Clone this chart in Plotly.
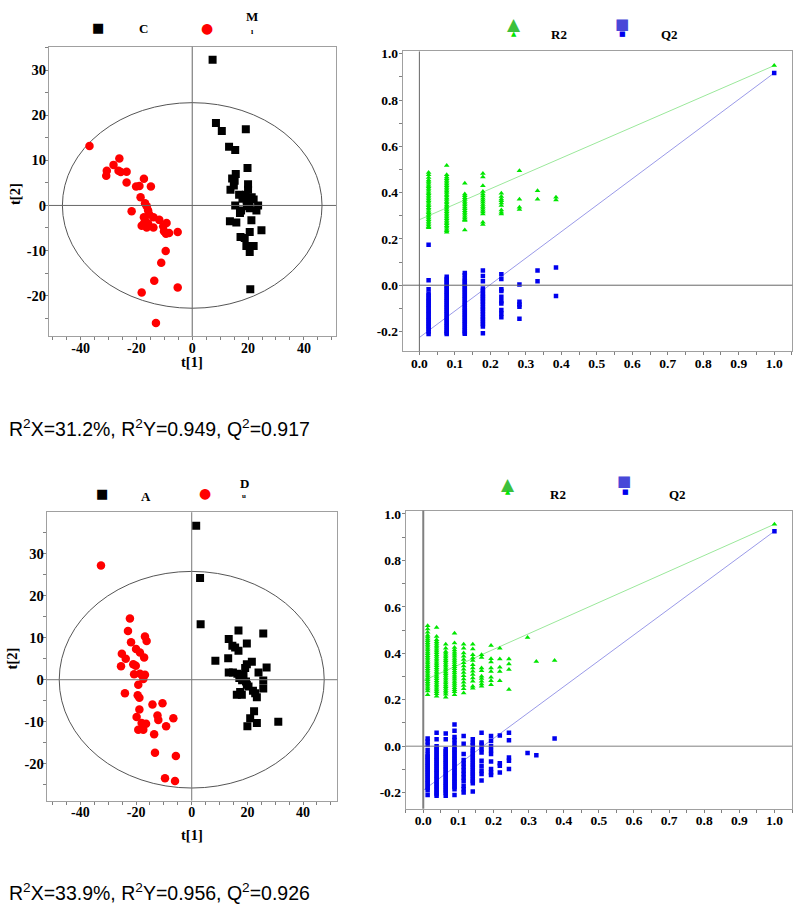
import plotly.graph_objects as go

W, H = 800, 913

# ---------------- DATA ----------------
# Top-left score plot (groups C and M)
TL_C_T1 = [7.3, 8.5, 10.6, 19.2, 13.2, 15.4, 19.8, 15.6, 14.3, 15.2, 20.0, 13.7, 14.9, 20.0, 16.8, 18.2, 19.2, 21.3, 22.0, 19.5,
           20.4, 23.6, 23.0, 15.4, 17.5, 17.1, 19.6, 20.6, 21.2, 13.5, 15.8, 24.8, 20.6, 17.3, 18.8, 19.4, 22.0, 20.6, 20.8, 18.0]
TL_C_T2 = [32.3, 18.3, 16.5, 16.9, 13.0, 12.3, 8.3, 7.0, 6.0, 5.5, 4.7, 3.5, 4.4, 3.5, 2.4, 2.0, 2.4, 1.8, 1.3, 1.1,
           0.7, 0.0, -1.1, 0.0, -1.1, -1.7, -0.2, -0.6, -3.3, -3.5, -3.8, -5.5, -5.9, -7.0, -7.2, -9.0, -9.0, -10.3, -18.6, 1.5]
TL_M_T1 = [-36.8, -26.1, -28.2, -30.6, -30.8, -26.4, -25.6, -23.5, -17.3, -23.5, -20.1, -18.9, -14.8, -18.5, -16.9, -16.3,
           -21.7, -15.8, -15.4, -17.3, -13.9, -11.8, -9.2, -17.3, -15.8, -18.1, -16.3, -13.9, -10.4, -10.1, -9.4, -8.3,
           -5.2, -9.5, -11.1, -13.6, -18.1, -5.2, -13.0, -16.8]
TL_M_T2 = [13.2, 10.4, 9.0, 7.7, 6.6, 7.7, 7.4, 7.5, 5.9, 5.1, 4.2, 4.3, 4.2, 1.8, 0.5, -0.2,
           -1.3, -1.1, -2.0, -2.6, -2.6, -3.2, -3.9, -4.0, -4.0, -4.5, -4.9, -4.9, -4.6, -5.7, -6.3, -6.1,
           -5.9, -10.1, -12.7, -16.7, -19.3, -18.2, -26.1, -3.4]
TL_ELLIPSE = (46.5, 22.8)   # Hotelling T2 semi-axes

# Bottom-left score plot (groups A and D)
BL_A_T1 = [1.6, 3.0, 3.2, 16.8, 25.7, 13.3, 14.6, 19.8, 15.6, 16.8, 13.1, 8.5, 21.6, 19.8, 19.2, 26.9, 24.0, 13.3, 14.8, 16.4,
           18.6, 17.1, 18.1, 19.5, 25.7, 19.8, 20.4, 22.0, 22.8, 25.7, 16.2, 18.0, 23.4, 22.4, 21.0, 20.0, 23.4, 31.1, 17.4]
BL_A_T2 = [36.7, 24.2, 13.2, 11.7, 11.0, 9.7, 8.1, 8.6, 7.7, 6.9, 5.1, 4.5, 4.3, 3.7, 2.8, 2.9, 1.7, 1.7, 1.7, 1.4,
           1.2, 0.4, -0.1, -0.4, -0.2, -1.2, -1.6, -2.6, -3.2, -2.1, -3.6, -3.6, -4.2, -7.5, -9.2, -11.1, -10.3, -10.0, -2.9]
BL_D_T1 = [-32.6, -22.2, -22.9, -16.8, -16.2, -21.8, -20.0, -18.6, -25.1, -23.7, -17.1, -21.0, -20.1, -25.4, -20.7, -18.6,
           -16.8, -17.4, -19.2, -24.0, -19.4, -18.8, -14.1, -10.5, -18.8, -19.8, -12.3, -12.0, -6.6, -18.0, -16.4, -9.2,
           -19.2, -17.4, -13.5, -13.2, -5.7, -9.6, -6.0]
BL_D_T2 = [27.2, 14.6, 11.6, 10.3, 9.2, 8.9, 7.3, 6.5, 6.2, 5.0, 5.3, 3.7, 3.3, 3.2, 1.3, 1.4,
           1.2, 0.2, -1.2, -3.2, -3.7, -4.3, -5.9, -5.6, -7.1, -8.9, -8.5, -9.6, -9.2, -10.3, -10.5, -11.1,
           -11.9, -11.9, -13.0, -17.4, -18.2, -23.5, -24.1]
BL_ELLIPSE = (47.6, 25.8)

# Top-right permutation plot
TR_X = [0.026, 0.077, 0.128, 0.179, 0.231, 0.282, 0.333, 0.385]
TR_R2 = [
    [0.487, 0.477, 0.465, 0.455, 0.448, 0.44, 0.432, 0.425, 0.418, 0.41, 0.402, 0.395, 0.388, 0.38, 0.372, 0.365,
     0.358, 0.35, 0.343, 0.335, 0.328, 0.32, 0.313, 0.305, 0.298, 0.29, 0.283, 0.275, 0.268, 0.26, 0.253, 0.248],
    [0.517, 0.477, 0.468, 0.46, 0.452, 0.445, 0.437, 0.43, 0.422, 0.415, 0.407, 0.4, 0.392, 0.385, 0.377, 0.37,
     0.362, 0.355, 0.347, 0.34, 0.332, 0.325, 0.317, 0.31, 0.302, 0.295, 0.287, 0.28, 0.272, 0.265, 0.257, 0.25,
     0.242, 0.235, 0.229],
    [0.441, 0.394, 0.386, 0.378, 0.37, 0.362, 0.354, 0.346, 0.338, 0.33, 0.322, 0.314, 0.306, 0.298, 0.29, 0.283,
     0.279, 0.239],
    [0.483, 0.468, 0.43, 0.405, 0.394, 0.385, 0.376, 0.367, 0.358, 0.349, 0.34, 0.332, 0.324, 0.316, 0.308, 0.272, 0.262],
    [0.397, 0.383, 0.372, 0.365, 0.355, 0.344, 0.325, 0.315, 0.308],
    [0.494, 0.371, 0.337, 0.327],
    [0.408, 0.371],
    [0.38, 0.368],
]
TR_Q2 = [
    [0.175, 0.021, -0.017, -0.036, -0.045, -0.055, -0.064, -0.073, -0.082, -0.091, -0.1, -0.109, -0.118, -0.127,
     -0.136, -0.145, -0.154, -0.163, -0.172, -0.181, -0.19, -0.2, -0.211],
    [0.036, 0.027, 0.018, 0.009, 0.0, -0.009, -0.018, -0.027, -0.036, -0.045, -0.054, -0.063, -0.072, -0.081, -0.09,
     -0.099, -0.108, -0.117, -0.126, -0.135, -0.144, -0.153, -0.162, -0.171, -0.18, -0.189, -0.198, -0.205, -0.211],
    [0.053, 0.043, 0.029, 0.02, 0.011, 0.002, -0.007, -0.016, -0.025, -0.034, -0.043, -0.052, -0.061, -0.07, -0.079,
     -0.088, -0.097, -0.106, -0.115, -0.124, -0.133, -0.142, -0.151, -0.16, -0.169, -0.178, -0.187, -0.196, -0.204, -0.21],
    [0.064, 0.04, 0.017, -0.014, -0.024, -0.036, -0.045, -0.053, -0.062, -0.071, -0.082, -0.093, -0.104, -0.114,
     -0.125, -0.136, -0.147, -0.157, -0.168, -0.179, -0.208],
    [0.047, 0.027, -0.018, -0.025, -0.05, -0.069, -0.079, -0.107, -0.122, -0.139],
    [0.003, -0.072, -0.083, -0.093, -0.145],
    [0.064, 0.017],
    [0.076, -0.047],
]
TR_ORIG = (0.949, 0.917)          # original model R2, Q2 at x = 1
TR_INTERCEPT = (0.283, -0.226)    # regression-line intercepts R2, Q2

# Bottom-right permutation plot
BR_X = [0.0125, 0.038, 0.064, 0.089, 0.115, 0.141, 0.166, 0.193, 0.218, 0.244, 0.297, 0.322, 0.374]
BR_R2 = [
    [0.519, 0.505, 0.491, 0.478, 0.47, 0.462, 0.454, 0.446, 0.438, 0.43, 0.422, 0.414, 0.406, 0.398, 0.39, 0.382,
     0.374, 0.366, 0.358, 0.35, 0.342, 0.334, 0.326, 0.318, 0.31, 0.302, 0.294, 0.286, 0.278, 0.27, 0.262, 0.254,
     0.246, 0.238, 0.222],
    [0.511, 0.472, 0.458, 0.45, 0.442, 0.434, 0.426, 0.418, 0.41, 0.402, 0.394, 0.386, 0.378, 0.37, 0.362, 0.354,
     0.346, 0.338, 0.33, 0.322, 0.314, 0.306, 0.298, 0.29, 0.282, 0.274, 0.266, 0.258, 0.25, 0.242, 0.234, 0.226, 0.215],
    [0.439, 0.422, 0.408, 0.4, 0.392, 0.384, 0.376, 0.368, 0.36, 0.352, 0.344, 0.336, 0.328, 0.32, 0.312, 0.304,
     0.296, 0.288, 0.28, 0.272, 0.264, 0.256, 0.248, 0.24, 0.232, 0.224, 0.211],
    [0.486, 0.444, 0.425, 0.414, 0.405, 0.396, 0.387, 0.378, 0.369, 0.36, 0.351, 0.342, 0.333, 0.324, 0.315, 0.306,
     0.297, 0.288, 0.279, 0.27, 0.261, 0.252, 0.243, 0.234, 0.222],
    [0.439, 0.422, 0.401, 0.387, 0.373, 0.359, 0.345, 0.331, 0.317, 0.303, 0.289, 0.275, 0.261, 0.247, 0.229],
    [0.439, 0.419, 0.394, 0.38, 0.369, 0.351, 0.337, 0.323, 0.309, 0.294, 0.28, 0.258, 0.25],
    [0.394, 0.382, 0.337, 0.325, 0.301, 0.291, 0.28, 0.268, 0.258],
    [0.434, 0.377, 0.363, 0.337, 0.322, 0.297, 0.282, 0.265],
    [0.422, 0.375, 0.34, 0.322, 0.282],
    [0.375, 0.354, 0.33, 0.244],
    [0.468],
    [0.365],
    [0.369],
]
BR_Q2 = [
    [0.033, 0.02, 0.005, -0.017, -0.035, -0.044, -0.053, -0.062, -0.071, -0.08, -0.089, -0.098, -0.107, -0.116,
     -0.125, -0.134, -0.143, -0.152, -0.161, -0.17, -0.179, -0.19, -0.21],
    [0.058, 0.03, 0.0, -0.009, -0.018, -0.027, -0.036, -0.045, -0.054, -0.063, -0.072, -0.081, -0.09, -0.099, -0.108,
     -0.117, -0.126, -0.135, -0.144, -0.153, -0.162, -0.171, -0.18, -0.189, -0.198, -0.206, -0.213],
    [0.055, 0.03, -0.013, -0.022, -0.031, -0.04, -0.049, -0.058, -0.067, -0.076, -0.085, -0.094, -0.103, -0.112,
     -0.121, -0.13, -0.139, -0.148, -0.157, -0.166, -0.175, -0.184, -0.193, -0.202, -0.213],
    [0.093, 0.066, 0.04, 0.027, 0.01, -0.005, -0.014, -0.023, -0.032, -0.041, -0.05, -0.059, -0.068, -0.077, -0.086,
     -0.095, -0.104, -0.113, -0.122, -0.131, -0.14, -0.149, -0.158, -0.167, -0.176, -0.185, -0.21],
    [0.044, 0.011, -0.034, -0.06, -0.075, -0.09, -0.105, -0.12, -0.135, -0.15, -0.17, -0.185, -0.2],
    [0.03, 0.015, 0.005, -0.01, -0.02, -0.03, -0.04, -0.05, -0.06, -0.07, -0.08, -0.09, -0.1, -0.11, -0.12, -0.13,
     -0.14, -0.15, -0.16, -0.195],
    [0.058, 0.016, 0.006, -0.013, -0.027, -0.063, -0.084, -0.105, -0.12, -0.148],
    [0.044, 0.023, 0.001, -0.017, -0.034, -0.066, -0.098, -0.113, -0.124],
    [0.046, -0.074, -0.084, -0.113],
    [0.058, 0.026, -0.049, -0.063, -0.098],
    [-0.029],
    [-0.039],
    [0.033],
]
BR_ORIG = (0.956, 0.926)
BR_INTERCEPT = (0.282, -0.19)

SCORE_XTICKS = [-40, -20, 0, 20, 40]
TL_YTICKS = [-20, -10, 0, 10, 20, 30]
BL_YTICKS = [-20, -10, 0, 10, 20, 30]
PERM_XTICKS = [0.0, 0.1, 0.2, 0.3, 0.4, 0.5, 0.6, 0.7, 0.8, 0.9, 1.0]
PERM_YTICKS = [-0.2, 0.0, 0.2, 0.4, 0.6, 0.8, 1.0]

CAPTION_TOP = "R<sup>2</sup>X=31.2%, R<sup>2</sup>Y=0.949, Q<sup>2</sup>=0.917"
CAPTION_BOTTOM = "R<sup>2</sup>X=33.9%, R<sup>2</sup>Y=0.956, Q<sup>2</sup>=0.926"

# ---------------- helpers ----------------
def px(x):
    return x / W

def py(y):
    return 1 - y / H

def lab(v, fmt):
    return "<b>" + (fmt % v) + "</b>"

SERIF = "Liberation Serif"

def axis(domain, rng, ticks, fmt, minor_dtick, fsize, standoff):
    return dict(
        domain=domain, range=rng, tickmode="array", tickvals=ticks,
        ticktext=[lab(t, fmt) for t in ticks],
        showline=True, linecolor="#a0a0a0", linewidth=1, mirror=True,
        ticks="outside", ticklen=3, tickcolor="#808080", tickwidth=1,
        ticklabelstandoff=standoff,
        showgrid=False, zeroline=False,
        tickfont=dict(family=SERIF, size=fsize, color="black"),
        minor=dict(tickmode="linear", tick0=0, dtick=minor_dtick, ticks="outside",
                   ticklen=3, tickcolor="#808080", showgrid=False),
        fixedrange=True,
    )

fig = go.Figure()

# ---------------- score plots ----------------
def score_traces(xa, ya, sq_x, sq_y, ci_x, ci_y):
    fig.add_trace(go.Scatter(x=sq_x, y=sq_y, mode="markers", xaxis=xa, yaxis=ya,
                             marker=dict(symbol="square", size=8, color="black"), showlegend=False))
    fig.add_trace(go.Scatter(x=ci_x, y=ci_y, mode="markers", xaxis=xa, yaxis=ya,
                             marker=dict(symbol="circle", size=8.5, color="#ff0000"), showlegend=False))

score_traces("x", "y", TL_C_T1, TL_C_T2, TL_M_T1, TL_M_T2)
score_traces("x3", "y3", BL_A_T1, BL_A_T2, BL_D_T1, BL_D_T2)

# ---------------- permutation plots ----------------
def perm_traces(xa, ya, xs, r2cols, q2cols, orig, icpt):
    rx, ry, qx, qy = [], [], [], []
    for x, col in zip(xs, r2cols):
        rx += [x] * len(col); ry += col
    for x, col in zip(xs, q2cols):
        qx += [x] * len(col); qy += col
    rx.append(1.0); ry.append(orig[0])
    qx.append(1.0); qy.append(orig[1])
    fig.add_trace(go.Scatter(x=[0, 1], y=[icpt[0], orig[0]], mode="lines", xaxis=xa, yaxis=ya,
                             line=dict(color="#9be89b", width=1), showlegend=False))
    fig.add_trace(go.Scatter(x=[0, 1], y=[icpt[1], orig[1]], mode="lines", xaxis=xa, yaxis=ya,
                             line=dict(color="#9a9ae8", width=1), showlegend=False))
    fig.add_trace(go.Scatter(x=rx, y=ry, mode="markers", xaxis=xa, yaxis=ya,
                             marker=dict(symbol="triangle-up", size=5, color="#00e600"), showlegend=False))
    fig.add_trace(go.Scatter(x=qx, y=qy, mode="markers", xaxis=xa, yaxis=ya,
                             marker=dict(symbol="square", size=4.5, color="#0000ee"), showlegend=False))

perm_traces("x2", "y2", TR_X, TR_R2, TR_Q2, TR_ORIG, TR_INTERCEPT)
perm_traces("x4", "y4", BR_X, BR_R2, BR_Q2, BR_ORIG, BR_INTERCEPT)

# ---------------- layout ----------------
layout = dict(
    width=W, height=H, margin=dict(l=0, r=0, t=0, b=0),
    paper_bgcolor="white", plot_bgcolor="white", showlegend=False,
    xaxis=axis([px(49), px(336)], [-51.3, 51.5], SCORE_XTICKS, "%d", 5, 14, -4),
    yaxis=axis([py(333), py(42)], [-29.0, 35.2], TL_YTICKS, "%d", 5, 14.5, -4),
    xaxis2=axis([px(402.7), px(792.3)], [-0.047, 1.051], PERM_XTICKS, "%.1f", 0.05, 13.5, -4),
    yaxis2=axis([py(348.3), py(46.7)], [-0.286, 1.01], PERM_YTICKS, "%.1f", 0.1, 13.5, -2),
    xaxis3=axis([px(46.7), px(337.3)], [-52.1, 52.3], SCORE_XTICKS, "%d", 5, 14, -4),
    yaxis3=axis([py(800), py(510)], [-28.8, 39.9], BL_YTICKS, "%d", 5, 14.5, -4),
    xaxis4=axis([px(405.7), px(792)], [-0.05, 1.05], PERM_XTICKS, "%.1f", 0.05, 13.5, -4),
    yaxis4=axis([py(808.3), py(508.3)], [-0.27, 1.015], PERM_YTICKS, "%.1f", 0.1, 13.5, -2),
)
for k in ["xaxis", "xaxis2", "xaxis3", "xaxis4"]:
    layout[k]["anchor"] = "y" + k[5:]
for k in ["yaxis", "yaxis2", "yaxis3", "yaxis4"]:
    layout[k]["anchor"] = "x" + k[5:]
fig.update_layout(**layout)

shapes = []
def cross(xa, ya, color, vwidth=1, hwidth=1):
    shapes.append(dict(type="line", xref=xa, yref=ya + " domain", x0=0, x1=0, y0=0, y1=1,
                       line=dict(color=color, width=vwidth)))
    shapes.append(dict(type="line", xref=xa + " domain", yref=ya, x0=0, x1=1, y0=0, y1=0,
                       line=dict(color=color, width=hwidth)))

cross("x", "y", "#666666")
cross("x3", "y3", "#777777")
cross("x2", "y2", "#666666")
cross("x4", "y4", "#808080", vwidth=2)
for xa, ya, (a, b) in [("x", "y", TL_ELLIPSE), ("x3", "y3", BL_ELLIPSE)]:
    shapes.append(dict(type="circle", xref=xa, yref=ya, x0=-a, x1=a, y0=-b, y1=b,
                       line=dict(color="#555555", width=1), layer="below"))
fig.update_layout(shapes=shapes)

ann = []
def text(x, y, s, size=13, color="black", family=SERIF, bold=True, angle=0, xanchor="center"):
    ann.append(dict(x=px(x), y=py(y), xref="paper", yref="paper",
                    text=("<b>" + s + "</b>") if bold else s, showarrow=False,
                    xanchor=xanchor, yanchor="middle", textangle=angle,
                    font=dict(family=family, size=size, color=color)))

GLYPH = "DejaVu Sans"
# top-left legend & labels
text(97.7, 23, "■", size=13, family=GLYPH, bold=False)
text(143, 24, "C")
text(207, 23, "●", size=14, color="#ff0000", family=GLYPH, bold=False)
text(252, 12, "M")
text(252, 27, "ı", size=8)
text(192, 359, "t[1]", size=14.5)
text(15, 190, "t[2]", size=14.5, angle=-90)
# bottom-left legend & labels
text(102, 491, "■", size=13, family=GLYPH, bold=False)
text(146, 494, "A")
text(205, 491, "●", size=14, color="#ff0000", family=GLYPH, bold=False)
text(244, 481, "D")
text(244, 494, "u", size=7)
text(192, 835, "t[1]", size=14.5)
text(12, 657, "t[2]", size=14.5, angle=-90)
# top-right legend
text(514, 19, "▲", size=17, color="#3cc03c", family=GLYPH, bold=False)
text(514, 29, "▲", size=7, color="#00e600", family=GLYPH, bold=False)
text(559, 30, "R2")
text(622, 19, "■", size=15, color="#4848d8", family=GLYPH, bold=False)
text(622, 29, "■", size=7, color="#0000ee", family=GLYPH, bold=False)
text(669, 30, "Q2")
# bottom-right legend
text(508, 482, "▲", size=17, color="#3cc03c", family=GLYPH, bold=False)
text(508, 490, "▲", size=7, color="#00e600", family=GLYPH, bold=False)
text(558, 492, "R2")
text(624, 479, "■", size=15, color="#4848d8", family=GLYPH, bold=False)
text(625, 490, "■", size=7, color="#0000ee", family=GLYPH, bold=False)
text(677, 492, "Q2")
# captions
text(7, 425, CAPTION_TOP, size=19.5, family="Liberation Sans", bold=False, xanchor="left")
text(7, 892, CAPTION_BOTTOM, size=19.5, family="Liberation Sans", bold=False, xanchor="left")
fig.update_layout(annotations=ann)

fig.write_html("out.html", config={"displayModeBar": False},
               post_script="document.body.style.margin='0';document.body.style.overflow='hidden';")
